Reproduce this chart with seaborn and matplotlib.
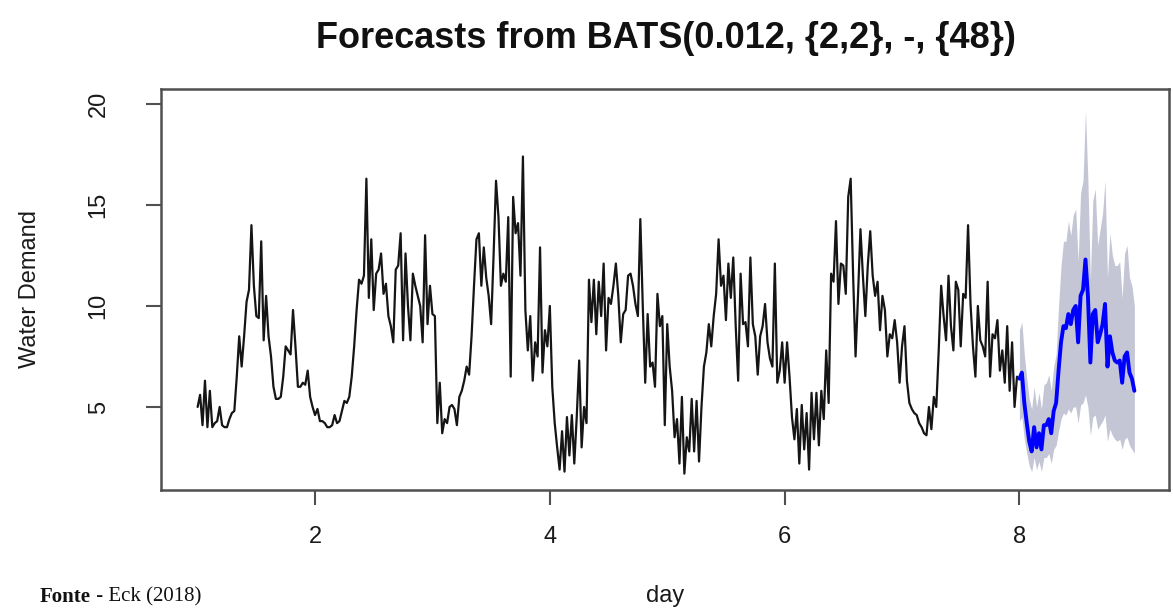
import numpy as np
import pandas as pd
import matplotlib
matplotlib.use("Agg")
import matplotlib.pyplot as plt
import seaborn as sns

# ---------------- data (half-hourly water demand, 48 obs per day) ----------------
day1 = [5.0, 5.6, 4.1, 6.3, 4.0, 5.8, 4.0, 4.2, 4.3, 5.0, 4.1, 4.0, 4.0, 4.4, 4.7, 4.8,
        6.5, 8.5, 7.0, 8.5, 10.2, 10.8, 14.0, 11.0, 9.5, 9.4, 13.2, 8.3, 10.5, 8.5, 7.5, 6.0,
        5.4, 5.4, 5.5, 6.5, 8.0, 7.8, 7.6, 9.8, 8.0, 6.0, 6.0, 6.2, 6.1, 6.8, 5.5, 5.0]
day2 = [4.6, 4.9, 4.3, 4.3, 4.2, 4.0, 4.0, 4.1, 4.6, 4.2, 4.3, 4.8, 5.3, 5.2, 5.5, 6.5,
        8.0, 9.8, 11.3, 11.1, 11.5, 16.3, 10.4, 13.3, 9.8, 11.6, 11.8, 12.6, 10.6, 11.1, 9.5, 9.0,
        8.2, 11.8, 12.0, 13.6, 8.3, 12.6, 10.0, 8.3, 11.6, 11.0, 10.5, 10.0, 8.2, 13.5, 9.1, 11.0]
day3 = [9.6, 9.5, 4.2, 6.2, 3.7, 4.4, 4.2, 5.0, 5.1, 4.9, 4.1, 5.5, 5.8, 6.3, 7.0, 6.6,
        8.5, 11.0, 13.3, 13.6, 11.0, 12.9, 11.4, 10.5, 9.1, 12.5, 16.2, 14.4, 11.0, 11.6, 11.2, 14.4,
        6.5, 15.4, 13.6, 14.1, 11.5, 17.4, 9.8, 7.8, 9.5, 6.3, 8.2, 7.5, 12.9, 6.7, 8.8, 8.0]
day4 = [10.0, 6.0, 4.2, 3.0, 1.9, 3.8, 1.8, 4.5, 2.6, 4.6, 2.2, 4.5, 7.3, 3.0, 5.0, 4.2,
        11.3, 9.2, 11.3, 8.6, 11.2, 9.5, 12.1, 7.8, 10.4, 10.1, 11.0, 12.1, 10.5, 8.2, 9.6, 9.8,
        11.5, 11.6, 11.0, 10.1, 9.5, 14.3, 10.0, 6.2, 9.6, 7.0, 7.2, 6.0, 10.6, 9.0, 9.5, 4.1]
day5 = [9.1, 7.0, 5.8, 3.5, 4.4, 2.2, 5.5, 1.7, 3.5, 2.8, 5.4, 2.8, 5.3, 2.3, 5.0, 7.0,
        7.7, 9.1, 8.0, 9.5, 10.6, 13.3, 11.0, 11.5, 9.3, 12.1, 10.4, 12.4, 9.0, 6.3, 11.6, 9.1,
        9.2, 8.0, 12.4, 9.1, 8.5, 6.6, 8.5, 9.0, 10.1, 8.2, 7.4, 7.0, 12.1, 6.2, 6.8, 8.2]
day6 = [6.2, 8.2, 6.5, 4.5, 3.4, 4.9, 2.2, 5.1, 2.9, 4.7, 1.9, 5.7, 3.4, 5.7, 3.1, 5.8,
        4.4, 7.8, 5.2, 11.6, 11.2, 14.2, 10.1, 12.1, 12.0, 10.6, 15.4, 16.3, 11.5, 7.5, 10.5, 13.8,
        11.5, 9.5, 12.0, 13.7, 11.5, 10.5, 11.2, 8.8, 10.5, 9.8, 7.5, 8.6, 8.4, 9.3, 8.2, 6.2]
day7 = [8.0, 9.0, 6.3, 5.2, 4.9, 4.7, 4.6, 4.2, 4.0, 3.7, 3.6, 5.0, 3.9, 5.5, 5.0, 7.8,
        11.0, 9.5, 8.3, 11.5, 9.0, 7.8, 11.2, 10.8, 8.0, 10.6, 10.4, 14.0, 10.1, 8.0, 6.5, 10.0,
        8.3, 8.0, 7.5, 11.2, 6.5, 8.6, 8.4, 9.3, 6.8, 7.8, 6.2, 9.0, 5.8, 8.2, 5.0, 6.5]

forecast_mean = [6.4, 6.7, 5.2, 4.2, 3.3, 2.8, 4.0, 3.0, 3.7, 2.9, 4.1, 4.1, 4.4, 3.7, 4.8, 5.2,
                 6.8, 8.2, 9.0, 8.9, 9.6, 9.1, 9.8, 10.0, 8.2, 10.5, 10.8, 12.3, 10.5, 7.2, 9.6, 9.8,
                 8.2, 8.6, 9.1, 10.1, 7.0, 8.5, 7.7, 7.3, 7.2, 7.3, 6.2, 7.5, 7.7, 6.7, 6.4, 5.8]
forecast_hi95 = [8.8, 9.2, 7.6, 6.4, 5.4, 4.9, 6.0, 5.0, 5.7, 4.9, 6.1, 6.2, 6.6, 5.8, 7.0, 7.6,
                 10.0, 12.0, 13.2, 13.2, 14.2, 13.5, 14.5, 14.8, 12.2, 15.6, 16.2, 19.7, 16.2, 11.3, 15.2, 15.8,
                 13.0, 13.8, 14.6, 16.2, 11.4, 13.6, 12.5, 12.0, 12.0, 12.2, 10.4, 12.6, 13.0, 11.4, 11.0, 10.0]
forecast_lo95 = [4.3, 4.5, 3.4, 2.7, 2.1, 1.8, 2.5, 1.9, 2.3, 1.8, 2.5, 2.5, 2.7, 2.2, 2.9, 3.1,
                 3.8, 4.4, 4.7, 4.6, 4.9, 4.7, 5.0, 5.0, 4.2, 5.1, 5.2, 5.6, 5.0, 3.6, 4.5, 4.6,
                 3.9, 4.1, 4.3, 4.6, 3.3, 3.9, 3.6, 3.4, 3.3, 3.4, 2.9, 3.4, 3.5, 3.1, 2.9, 2.7]

title = "Forecasts from BATS(0.012, {2,2}, -, {48})"
x_label = "day"
y_label = "Water Demand"
x_ticks = [2, 4, 6, 8]
y_ticks = [5, 10, 15, 20]
obs_per_day = 48
first_day = 1

# ---------------- tidy frames ----------------
observed = day1 + day2 + day3 + day4 + day5 + day6 + day7
obs_df = pd.DataFrame({
    "day": first_day + np.arange(len(observed)) / obs_per_day,
    "demand": observed,
})
fc_df = pd.DataFrame({
    "day": first_day + (len(observed) + np.arange(len(forecast_mean))) / obs_per_day,
    "demand": forecast_mean,
    "lo95": forecast_lo95,
    "hi95": forecast_hi95,
})

# ---------------- style ----------------
sns.set_theme(style="white")
plt.rcParams["font.family"] = ["Liberation Sans", "DejaVu Sans"]

W, H = 1173, 610
fig = plt.figure(figsize=(W / 100, H / 100), dpi=100)
fig.patch.set_facecolor("white")
left, right, top, bottom = 161, 1169, 89, 490
ax = fig.add_axes([left / W, 1 - bottom / H, (right - left) / W, (bottom - top) / H])
ax.set_facecolor("white")

# prediction interval shading
ax.fill_between(fc_df["day"], fc_df["lo95"], fc_df["hi95"], color="#C4C6D6", lw=0, zorder=1)

sns.lineplot(data=obs_df, x="day", y="demand", ax=ax, color="#151515",
             linewidth=1.6, estimator=None, zorder=3)
sns.lineplot(data=fc_df, x="day", y="demand", ax=ax, color="#0000FF",
             linewidth=2.8, estimator=None, zorder=4)

ax.set_xlim(0.688, 9.274)
ax.set_ylim(0.89, 20.74)
ax.set_xticks(x_ticks)
ax.set_yticks(y_ticks)
ax.set_xticklabels([str(t) for t in x_ticks])
ax.set_yticklabels([str(t) for t in y_ticks], rotation=90, va="center")
ax.set_xlabel("")
ax.set_ylabel("")

for s in ax.spines.values():
    s.set_visible(True)
    s.set_color("#505050")
    s.set_linewidth(1.8)

ax.tick_params(axis="both", which="major", direction="out", length=11, width=1.5,
               color="#505050", labelsize=17, labelcolor="#1a1a1a",
               bottom=True, left=True)
ax.tick_params(axis="x", pad=15)
ax.tick_params(axis="y", pad=26)

fig.text(666 / W, 1 - 38 / H, title, ha="center", va="center",
         fontsize=26, fontweight="bold", color="#111111")
fig.text(665 / W, 1 - 596 / H, x_label, ha="center", va="center",
         fontsize=17, color="#1a1a1a")
fig.text(30 / W, 1 - 289 / H, y_label, ha="center", va="center", rotation=90,
         fontsize=17, color="#1a1a1a")

# source note
t1 = fig.text(40 / W, 1 - 597 / H, "Fonte", ha="left", va="center",
              fontsize=15, fontweight="bold", family=["Liberation Serif", "DejaVu Serif"],
              color="#111111")
fig.canvas.draw()
bb = t1.get_window_extent()
fig.text(bb.x1 / W, 1 - 597 / H, " - Eck (2018)", ha="left", va="center",
         fontsize=15, family=["Liberation Serif", "DejaVu Serif"], color="#111111")

fig.savefig("out.png", dpi=100, facecolor="white")
